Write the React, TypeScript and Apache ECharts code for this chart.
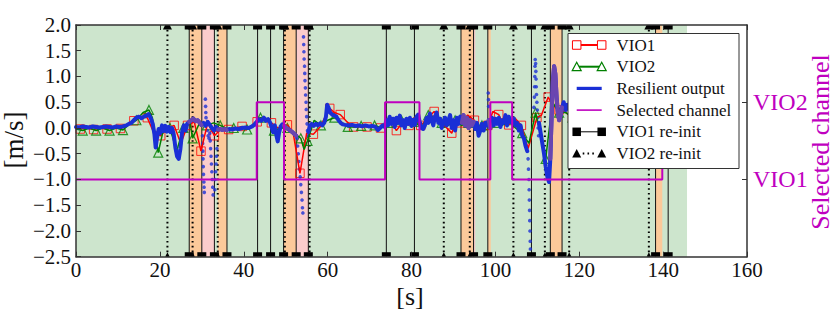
import React, { useEffect, useRef } from 'react';
import * as echarts from 'echarts';

// ---------- data ----------
const Y_MIN = -2.5;
const Y_MAX = 2.0;
const X_MIN = 0;
const X_MAX = 160;

const greenSpans = [[0, 145.7]];
const orangeSpans = [[27.0, 30.0], [33.8, 36.0], [49.5, 52.5], [91.8, 94.8], [98.2, 98.9], [113.1, 115.9], [138.2, 139.8]];
const pinkSpans = [[30.0, 33.0], [52.5, 55.5], [94.8, 95.2]];

const vio1Reinit = [27.0, 30.0, 33.0, 36.0, 43.3, 46.4, 49.5, 52.5, 55.4, 74.0, 80.7, 91.8, 94.8, 98.2, 108.6, 113.1, 115.9, 138.2, 141.2];
const vio2Reinit = [21.8, 27.8, 33.8, 49.8, 55.7, 87.7, 93.9, 104.3, 111.8, 117.6, 136.6];

const channelTicks = [-1.0, 0.5];
const channelNames = ['VIO1', 'VIO2'];
const selectedChannel = [[0, -1], [43.1, 0.5], [49.6, -1], [73.7, 0.5], [81.9, -1], [98.8, 0.5], [104.0, -1], [139.8, 0.5], [141.2, 0.5]];

const resilient = [
  [0, 0.02], [0.8, 0.01], [1.6, 0.03], [2.4, 0.02], [3.2, 0.01], [4, 0.03], [4.8, 0.02], [5.6, 0.01], [6.4, 0.02], [7.2, 0.03],
  [8, 0.02], [8.8, 0.01], [9.6, 0.03], [10.4, 0.02], [11.2, 0.03], [12, 0.05], [12.6, 0.08], [13.2, 0.1], [13.8, 0.15], [14.4, 0.2],
  [15, 0.22], [15.6, 0.19], [16.2, 0.22], [16.8, 0.24], [17.3, 0.27], [17.8, 0.2], [18.3, 0.08], [18.7, -0.12], [19.0, -0.38], [19.3, -0.2],
  [19.7, -0.02], [20.1, -0.1], [20.5, 0.05], [20.9, -0.06], [21.3, 0.04], [21.7, -0.07], [22.1, 0.02], [22.5, -0.08], [22.9, 0.0], [23.3, -0.12],
  [23.7, -0.38], [24.1, -0.55], [24.5, -0.6], [24.9, -0.4], [25.3, -0.08], [25.7, 0.05], [26.1, -0.05], [26.5, 0.08], [27.0, 0.12], [27.5, 0.15],
  [28.0, 0.18], [28.5, 0.13], [29.0, 0.15], [29.5, 0.1], [29.9, 0.06], [30.4, 0.1], [30.9, 0.04], [31.4, 0.12], [31.9, 0.06], [32.4, 0.0],
  [32.9, -0.05], [33.4, 0.02], [33.9, -0.03], [34.4, -0.02], [34.9, -0.04], [35.4, -0.02], [35.9, -0.04], [36.5, -0.02], [37.2, -0.03], [38, -0.01],
  [38.8, -0.02], [39.6, 0.0], [40.4, 0.01], [41.2, 0.0], [42, 0.03], [42.6, 0.07], [43.1, 0.12], [43.6, 0.17], [44.2, 0.14], [44.8, 0.2],
  [45.3, 0.14], [45.8, 0.17], [46.3, 0.1], [46.7, 0.0], [47.0, -0.08], [47.4, 0.05], [47.8, -0.15], [48.1, -0.26], [48.4, -0.1], [48.8, 0.03],
  [49.2, 0.07], [49.6, 0.05], [50.1, 0.0], [50.6, -0.02], [51.1, -0.05], [51.6, -0.08], [52.1, -0.12], [52.5, -0.15], [52.6, '-'], [55.4, -0.08],
  [55.8, 0.05], [56.2, 0.08], [56.7, 0.04], [57.2, 0.08], [57.7, 0.05], [58.2, 0.09], [58.7, 0.05], [59.2, 0.1], [59.6, 0.22], [59.9, 0.45],
  [60.2, 0.4], [60.6, 0.3], [61.1, 0.26], [61.6, 0.24], [62.1, 0.22], [62.6, 0.15], [63.1, 0.1], [63.6, 0.07], [64.2, 0.06], [65, 0.05],
  [65.8, 0.06], [66.6, 0.04], [67.4, 0.05], [68.2, 0.03], [69, 0.05], [69.8, 0.03], [70.6, 0.04], [71.4, 0.02], [72, -0.04], [72.5, 0.0],
  [73.1, 0.05], [73.6, 0.02], [74, 0.15], [74.4, 0.05], [74.8, 0.22], [75.2, 0.08], [75.6, 0.18], [76, 0.02], [76.4, 0.2], [76.8, 0.1],
  [77.2, 0.24], [77.6, 0.05], [78, 0.15], [78.4, 0.0], [78.8, 0.18], [79.2, 0.08], [79.6, 0.2], [80, 0.04], [80.4, 0.16], [80.8, 0.06],
  [81.2, 0.22], [81.6, 0.26], [82.0, 0.1], [82.4, 0.0], [82.8, -0.02], [83.2, 0.05], [83.6, 0.2], [84, 0.1], [84.4, 0.28], [84.8, 0.15],
  [85.2, 0.05], [85.6, 0.22], [86, 0.3], [86.4, 0.1], [86.8, 0.18], [87.2, 0.0], [87.6, 0.1], [88, 0.2], [88.4, 0.05], [88.8, 0.15],
  [89.2, 0.25], [89.6, 0.0], [90, 0.15], [90.4, -0.05], [90.8, 0.2], [91.2, 0.08], [91.6, 0.22], [92, 0.1], [92.4, 0.25], [92.8, 0.05],
  [93.2, 0.2], [93.6, 0.0], [94, 0.15], [94.4, 0.05], [94.8, 0.12], [95.2, -0.02], [95.6, 0.1], [96, -0.15], [96.4, -0.05], [96.8, 0.08],
  [97.2, -0.05], [97.6, 0.1], [98, 0.05], [98.4, 0.15], [98.8, 0.0], [99.2, 0.2], [99.6, 0.05], [100, 0.18], [100.4, 0.08], [100.8, 0.2],
  [101.2, 0.02], [101.6, 0.15], [102, 0.1], [102.4, 0.25], [102.8, 0.05], [103.2, 0.22], [103.6, 0.12], [104, 0.1], [104.4, 0.18], [104.8, 0.05],
  [105.2, 0.1], [105.6, -0.05], [106, 0.05], [106.4, -0.15], [106.8, -0.2], [107.2, -0.35], [107.6, -0.45], [107.7, '-'], [110.4, 0.1], [110.8, -0.1],
  [111.2, -0.3], [111.6, -0.5], [112, -0.75], [112.4, -0.95], [112.8, -1.05], [113.1, -0.6], [113.4, 0.2], [113.7, 0.9], [114.0, 1.2], [114.3, 1.05],
  [114.6, 0.6], [114.9, 0.3], [115.2, 0.15], [115.6, 0.25], [115.9, 0.4], [116.3, 0.5], [116.8, 0.35], [117.2, 0.45], [118, 0.3], [120, 0.2],
  [122, 0.25], [124, 0.15], [126, 0.2], [128, 0.3], [130, 0.2], [132, 0.15], [134, 0.25], [136, 0.2], [138, 0.3], [140, 0.25], [141, 0.2],
];

const resilientDots = [
  [30.15, -0.15], [30.2, -0.3], [30.25, -0.45], [30.3, -0.6], [30.35, -0.75], [30.4, -0.9], [30.5, -1.05], [30.55, -1.15], [30.6, -1.25],
  [30.85, 0.56], [30.9, 0.42], [30.95, 0.3], [31.0, 0.2], [31.3, -0.05], [31.5, -0.15], [31.7, -0.2],
  [31.9, -0.1], [32.0, -0.25], [32.1, -0.4], [32.2, -0.55], [32.3, -0.7], [32.4, -0.85], [32.5, -1.0], [32.6, -1.15], [32.7, -1.3],
  [33.1, -1.2], [33.2, -1.0], [33.3, -0.85], [33.4, -0.7], [33.5, -0.55], [33.6, -0.4],
  [52.7, -0.2], [52.85, -0.35], [53.0, -0.5], [53.15, -0.65], [53.3, -0.8], [53.45, -0.95], [53.6, -1.1], [53.75, -1.25], [53.9, -1.4], [54.0, -1.55], [54.1, -1.65],
  [54.25, 1.77], [54.3, 1.62], [54.35, 1.48], [54.4, 1.34], [54.5, 1.2], [54.55, 1.06], [54.6, 0.92], [54.7, 0.78], [54.75, 0.64], [54.85, 0.5],
  [54.9, 0.36], [55.0, 0.22], [55.1, 0.08], [55.2, -0.05], [55.3, -0.15],
  [98.3, 0.68], [98.35, 0.55], [98.4, 0.42],
  [107.8, -0.6], [107.9, -0.8], [108.0, -1.0], [108.05, -1.2], [108.1, -1.4], [108.15, -1.6], [108.2, -1.8], [108.25, -2.0], [108.3, -2.2], [108.35, -2.35],
  [109.2, 0.4], [109.3, 0.6], [109.35, 0.8], [109.4, 1.0], [109.45, 1.2], [109.5, 1.33], [109.6, 1.25], [109.65, 1.1], [109.7, 0.95], [109.75, 0.8],
  [109.8, 0.65], [109.9, 0.5], [110.0, 0.35], [110.1, 0.2], [110.2, 0.0], [110.3, -0.15],
];

const vio1 = [
  [1.0, -0.02], [2.6, 0.0], [4.2, -0.03], [5.8, 0.0], [7.4, -0.02], [9.0, 0.01], [10.6, -0.01], [12.2, 0.05], [13.8, 0.14], [15.4, 0.22],
  [17.0, 0.2], [18.6, -0.1], [20.2, -0.15], [21.8, 0.0], [23.4, 0.05], [25.0, -0.3], [26.6, 0.05], [28.2, 0.12], [29.8, -0.45], [31.4, 0.1],
  [33.0, -0.15], [34.6, -0.02], [36.4, -0.03], [38.0, 0.0], [39.6, 0.03], [41.2, 0.0], [43.2, 0.12], [44.6, 0.16], [46.6, 0.1], [48.2, 0.0],
  [50.4, 0.06], [51.8, -0.1], [53.4, -0.88], [55.0, -0.1], [56.6, -0.12], [58.2, 0.02], [60.5, 0.38], [61.6, 0.3], [63.0, 0.26], [64.6, 0.12],
  [66.2, 0.02], [67.8, 0.03], [69.4, 0.02], [71.0, 0.03], [72.6, 0.0], [74.8, 0.18], [76.4, -0.05], [77.8, 0.1], [79.4, 0.05], [80.6, 0.2],
  [82.2, 0.05], [84.0, 0.2], [85.4, 0.32], [87.0, 0.12], [89.6, -0.1], [90.6, 0.12], [91.8, 0.1], [93.4, 0.25], [95.0, 0.15], [96.4, -0.06],
  [98.2, 0.05], [99.4, 0.32], [100.8, 0.26], [101.6, 0.12], [103.2, 0.06], [104.6, 0.2], [106.2, 0.05], [107.8, -0.4], [109.9, 0.2], [111.0, 0.25],
  [112.6, 0.6], [113.6, 0.45], [115.2, 0.35], [116.8, 0.3], [118.4, 0.2], [120.0, 0.25], [122.0, 0.2], [124.0, 0.2], [126.0, 0.25], [128.0, 0.2],
  [130.0, 0.2], [132.0, 0.25], [134.0, 0.2], [136.0, 0.2], [138.0, 0.25], [140.0, 0.2],
];

const vio2 = [
  [0.0, -0.02], [1.6, -0.05], [3.2, 0.0], [4.8, -0.05], [6.4, 0.0], [8.0, -0.05], [9.6, 0.0], [11.2, -0.04], [12.8, 0.08], [14.4, 0.15],
  [16.0, 0.3], [17.4, 0.35], [18.2, 0.2], [19.6, -0.48], [20.8, -0.05], [22.4, 0.0], [24.0, -0.45], [25.6, 0.0], [27.2, 0.1], [27.8, -0.2],
  [29.6, 0.12], [31.2, 0.05], [32.8, 0.1], [34.4, 0.05], [36.0, -0.02], [37.6, 0.0], [39.2, 0.0], [40.8, -0.03], [42.4, 0.08], [44.0, 0.2],
  [45.6, 0.18], [47.2, -0.05], [48.8, 0.0], [50.4, 0.0], [52.0, -0.1], [53.6, -0.2], [54.4, -0.42], [55.2, -0.25], [56.8, 0.15], [58.4, 0.05],
  [60.0, 0.15], [61.6, 0.2], [63.2, 0.12], [64.8, 0.02], [66.4, 0.02], [68.0, 0.04], [69.6, 0.03], [71.2, 0.05], [72.8, 0.0], [74.4, 0.1],
  [76.0, 0.12], [77.6, 0.15], [79.2, 0.1], [80.8, 0.12], [82.4, 0.0], [84.0, 0.25], [85.6, 0.2], [87.2, 0.1], [88.8, 0.05], [90.4, 0.15],
  [92.0, 0.05], [93.6, 0.1], [95.2, 0.0], [96.8, 0.05], [98.4, 0.05], [100.0, 0.1], [101.6, 0.05], [103.2, 0.15], [104.8, 0.0], [106.4, -0.1],
  [108.0, -0.3], [109.6, 0.3], [111.2, -0.3], [112.0, -0.6], [113.6, 0.5], [115.2, 0.3], [116.8, 0.3], [118.4, 0.2], [120.0, 0.2], [122.0, 0.25],
  [124.0, 0.2], [126.0, 0.2], [128.0, 0.25], [130.0, 0.2], [132.0, 0.2], [134.0, 0.25], [136.0, 0.2], [138.0, 0.2], [140.0, 0.25],
];

const legendLabels = ['VIO1', 'VIO2', 'Resilient output', 'Selected channel', 'VIO1 re-init', 'VIO2 re-init'];

// ---------- styles ----------
const FONT = 'Liberation Serif, DejaVu Serif, serif';
const RED = '#ff0000';
const GREEN = '#008000';
const BLUE = '#1a2fd6';
const PURPLE = '#6a45b0';
const MAGENTA = '#bf00bf';
const AXIS = '#333333';
const GREEN_BG = '#cde5cd';
const ORANGE_BG = '#fcc99a';
const PINK_BG = '#fbcccc';
const LEGEND_Z = 100;

const inOrange = (t: number) => orangeSpans.some(([a, b]) => t >= a && t <= b);

function spanSeries(spans: number[][], fill: string) {
  return {
    type: 'custom',
    coordinateSystem: 'cartesian2d',
    silent: true,
    z: 1,
    data: spans.map(([a, b]) => [a, b, Y_MIN, Y_MAX]),
    encode: { x: [0, 1], y: [2, 3] },
    renderItem: (_p: any, api: any) => {
      const p0 = api.coord([api.value(0), Y_MAX]);
      const p1 = api.coord([api.value(1), Y_MIN]);
      return {
        type: 'rect',
        shape: { x: p0[0], y: p0[1], width: p1[0] - p0[0], height: p1[1] - p0[1] },
        style: { fill },
      };
    },
  };
}

function reinitSeries(xs: number[], kind: 'square' | 'triangle') {
  return {
    type: 'custom',
    coordinateSystem: 'cartesian2d',
    silent: true,
    z: 1,
    data: xs.map((x) => [x, Y_MIN, Y_MAX]),
    encode: { x: 0, y: [1, 2] },
    renderItem: (_p: any, api: any) => {
      const x = api.value(0);
      const top = api.coord([x, Y_MAX]);
      const bot = api.coord([x, Y_MIN]);
      const s = 4.5;
      const children: any[] = [];
      if (kind === 'square') {
        children.push({ type: 'line', shape: { x1: top[0], y1: top[1], x2: bot[0], y2: bot[1] }, style: { stroke: '#111', lineWidth: 1 } });
        children.push({ type: 'rect', shape: { x: top[0] - s, y: top[1], width: 2 * s, height: s }, style: { fill: '#000' } });
        children.push({ type: 'rect', shape: { x: bot[0] - s, y: bot[1] - s, width: 2 * s, height: s }, style: { fill: '#000' } });
      } else {
        children.push({ type: 'line', shape: { x1: top[0], y1: top[1], x2: bot[0], y2: bot[1] }, style: { stroke: '#000', lineWidth: 2, lineDash: [1.6, 3.2] } });
        children.push({ type: 'polygon', shape: { points: [[top[0] - s / 2, top[1]], [top[0] + s / 2, top[1]], [top[0] + s, top[1] + s], [top[0] - s, top[1] + s]] }, style: { fill: '#000' } });
        children.push({ type: 'polygon', shape: { points: [[bot[0], bot[1] - s], [bot[0] + s / 2, bot[1]], [bot[0] - s / 2, bot[1]]] }, style: { fill: '#000' } });
      }
      return { type: 'group', children };
    },
  };
}

function buildLegend() {
  const LX = 568, LY = 33.5, LW = 171, LH = 135;
  const x1 = 576.7, x2 = 601.7, tx = 616.5;
  const Z = LEGEND_Z;
  const els: any[] = [
    { type: 'rect', z: Z, shape: { x: LX, y: LY, width: LW, height: LH }, style: { fill: '#ffffff', stroke: '#333', lineWidth: 1 } },
  ];
  const line = (y: number, stroke: string, lineWidth: number, extra: any = {}, a = x1, b = x2) => ({
    type: 'line', z: Z + 1, shape: { x1: a, y1: y, x2: b, y2: y }, style: { stroke, lineWidth, ...extra },
  });
  const sq = (x: number, y: number, stroke: string | null, fill: string) => ({
    type: 'rect', z: Z + 2, shape: { x: x - 4.25, y: y - 4.25, width: 8.5, height: 8.5 },
    style: stroke ? { fill: '#ffffff', stroke, lineWidth: 1 } : { fill },
  });
  const tri = (x: number, y: number, stroke: string | null, fill: string) => ({
    type: 'polygon', z: Z + 2, shape: { points: [[x, y - 4.5], [x + 4.5, y + 4], [x - 4.5, y + 4]] },
    style: stroke ? { fill: '#ffffff', stroke, lineWidth: 1.2 } : { fill },
  });
  legendLabels.forEach((label, i) => {
    const y = LY + 11.5 + i * 21.7;
    if (i === 0) {
      els.push(line(y, RED, 2), sq(x1, y, RED, ''), sq(x2, y, RED, ''));
    } else if (i === 1) {
      els.push(line(y, GREEN, 2), tri(x1, y, GREEN, ''), tri(x2, y, GREEN, ''));
    } else if (i === 2) {
      els.push(line(y, BLUE, 3.2));
    } else if (i === 3) {
      els.push(line(y, MAGENTA, 1.6));
    } else if (i === 4) {
      els.push(line(y, '#000', 1), sq(x1, y, null, '#000'), sq(x2, y, null, '#000'));
    } else {
      els.push(line(y, '#000', 2, { lineDash: [1.6, 3.2] }, x1 + 6, x2 - 6), tri(x1, y, null, '#000'), tri(x2, y, null, '#000'));
    }
    els.push({
      type: 'text', z: Z + 2, x: tx, y,
      style: { text: label, fontSize: 17, fontFamily: FONT, fill: '#111', textAlign: 'left', textVerticalAlign: 'middle' },
    });
  });
  return els;
}

const fmtTick = (v: number) => v.toFixed(1).replace('-', '\u2212');

export default function App() {
  const ref = useRef<HTMLDivElement>(null);
  useEffect(() => {
    if (!ref.current) return;
    const chart = echarts.init(ref.current, null, { renderer: 'svg' });
    const axisLineStyle = { color: AXIS, width: 1.5 };
    const option: any = {
      animation: false,
      backgroundColor: '#ffffff',
      textStyle: { fontFamily: FONT },
      grid: { left: 76, top: 25, right: 90, bottom: 64.3, containLabel: false },
      xAxis: [
        {
          type: 'value', min: X_MIN, max: X_MAX, interval: 20, position: 'bottom', z: 10,
          axisLine: { show: true, onZero: false, lineStyle: axisLineStyle },
          axisTick: { show: true, inside: true, length: 5, lineStyle: { color: AXIS, width: 1 } },
          axisLabel: { color: '#111', fontSize: 21, fontFamily: FONT, margin: 3 },
          splitLine: { show: false },
        },
        {
          type: 'value', min: X_MIN, max: X_MAX, interval: 20, position: 'top', z: 10,
          axisLine: { show: true, onZero: false, lineStyle: axisLineStyle },
          axisTick: { show: true, inside: true, length: 5, lineStyle: { color: AXIS, width: 1 } },
          axisLabel: { show: false },
          splitLine: { show: false },
        },
      ],
      yAxis: [
        {
          type: 'value', min: Y_MIN, max: Y_MAX, interval: 0.5, position: 'left', z: 10,
          axisLine: { show: true, onZero: false, lineStyle: axisLineStyle },
          axisTick: { show: true, inside: true, length: 5, lineStyle: { color: AXIS, width: 1 } },
          axisLabel: { color: '#111', fontSize: 21, fontFamily: FONT, margin: 5, formatter: fmtTick },
          splitLine: { show: false },
        },
        {
          type: 'value', min: Y_MIN, max: Y_MAX, interval: 0.5, position: 'right', z: 10,
          axisLine: { show: true, onZero: false, lineStyle: axisLineStyle },
          axisTick: { show: true, inside: true, length: 5, customValues: channelTicks, lineStyle: { color: AXIS, width: 1 } },
          axisLabel: {
            color: MAGENTA, fontSize: 24, fontFamily: FONT, margin: 6, customValues: channelTicks,
            formatter: (v: number) => {
              const i = channelTicks.findIndex((c) => Math.abs(c - v) < 1e-6);
              return i >= 0 ? channelNames[i] : '';
            },
          },
          splitLine: { show: false },
        },
      ],
      series: [
        spanSeries(greenSpans, GREEN_BG),
        spanSeries(orangeSpans, ORANGE_BG),
        spanSeries(pinkSpans, PINK_BG),
        reinitSeries(vio1Reinit, 'square'),
        reinitSeries(vio2Reinit, 'triangle'),
        {
          name: 'VIO1', type: 'line', data: vio1, showSymbol: false, symbol: 'none', silent: true,
          lineStyle: { color: RED, width: 1.5 },
        },
        {
          name: 'VIO1 markers', type: 'scatter', data: vio1.filter((_, i) => i % 2 === 0), symbol: 'rect', symbolSize: 8.5, silent: true,
          itemStyle: { color: 'rgba(0,0,0,0)', borderColor: RED, borderWidth: 1 },
        },
        {
          name: 'VIO2', type: 'line', data: vio2, showSymbol: false, symbol: 'none', silent: true,
          lineStyle: { color: GREEN, width: 1.5 },
        },
        {
          name: 'VIO2 markers', type: 'scatter', data: vio2.filter((_, i) => i % 2 === 1), symbol: 'triangle', symbolSize: 9, silent: true,
          itemStyle: { color: 'rgba(0,0,0,0)', borderColor: GREEN, borderWidth: 1.2 },
        },
        {
          name: 'Resilient output', type: 'line', data: resilient, showSymbol: false, symbol: 'none', silent: true, connectNulls: false,
          lineStyle: { color: BLUE, width: 4, cap: 'round', join: 'round' },
        },
        {
          name: 'Resilient output (overlap)', type: 'line', silent: true, showSymbol: false, symbol: 'none', connectNulls: false,
          data: resilient.map(([t, v]) => (typeof v === 'number' && inOrange(t as number) ? [t, v] : [t, '-'])),
          lineStyle: { color: PURPLE, width: 4, cap: 'round', join: 'round' },
        },
        {
          name: 'Resilient dots', type: 'scatter', data: resilientDots, symbol: 'circle', symbolSize: 3.6, silent: true,
          itemStyle: { color: BLUE },
        },
        {
          name: 'Selected channel', type: 'line', yAxisIndex: 1, data: selectedChannel, step: 'end', showSymbol: false, symbol: 'none', silent: true,
          lineStyle: { color: MAGENTA, width: 2 },
        },
      ],
      graphic: {
        elements: [
          { type: 'text', z: 50, x: 410, y: 296, style: { text: '[s]', fontSize: 26, fontFamily: FONT, fill: '#111', textAlign: 'center', textVerticalAlign: 'middle' } },
          { type: 'text', z: 50, x: 14, y: 140, rotation: Math.PI / 2, style: { text: '[m/s]', fontSize: 27, fontFamily: FONT, fill: '#111', textAlign: 'center', textVerticalAlign: 'middle' } },
          { type: 'text', z: 50, x: 820, y: 142, rotation: Math.PI / 2, style: { text: 'Selected channel', fontSize: 26, fontFamily: FONT, fill: MAGENTA, textAlign: 'center', textVerticalAlign: 'middle' } },
          ...buildLegend(),
        ],
      },
    };
    chart.setOption(option);
    return () => chart.dispose();
  }, []);
  return <div ref={ref} style={{ position: 'fixed', left: 0, top: 0, width: 837, height: 321, background: '#ffffff' }} />;
}
